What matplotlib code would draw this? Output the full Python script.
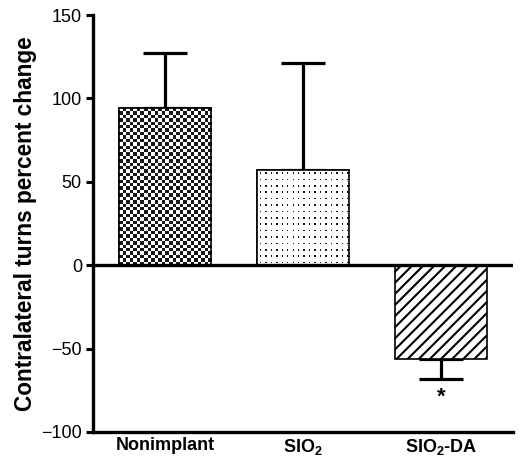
import numpy as np
import matplotlib
matplotlib.use("Agg")
import matplotlib.pyplot as plt

plt.rcParams['font.family'] = ['Liberation Sans', 'DejaVu Sans']
plt.rcParams['mathtext.fontset'] = 'custom'
plt.rcParams['mathtext.rm'] = 'Liberation Sans:bold'
plt.rcParams['mathtext.bf'] = 'Liberation Sans:bold'
plt.rcParams['hatch.linewidth'] = 1.5

# data
groups = ['Nonimplant', r'SIO$_\mathbf{2}$', r'SIO$_\mathbf{2}$-DA']
means = [94, 57, -56]
errors = [33, 64, 12]

fig = plt.figure(figsize=(5.21, 4.71), dpi=100)
ax = fig.add_axes([0.1785, 0.083, 0.806, 0.885])

x = np.arange(len(groups))
bars = ax.bar(x, means, width=0.67, color='white', edgecolor='black',
              linewidth=1.2, zorder=2)
bars[2].set_hatch('///')


def fill_texture(bar, tex, vmax):
    # paint a texture inside a bar, clipped to its outline
    im = ax.imshow(tex, cmap='gray_r', vmin=0, vmax=vmax, aspect='auto',
                   interpolation='nearest', zorder=2.5,
                   extent=(bar.get_x(), bar.get_x() + bar.get_width(),
                           bar.get_y(), bar.get_y() + bar.get_height()))
    im.set_clip_path(bar)


# checkerboard for Nonimplant
checker = np.indices((46, 26)).sum(axis=0) % 2
fill_texture(bars[0], checker, 1.1)

# fine dot grid for SIO2
cell = np.zeros((4, 4))
cell[2, 2] = 1
dots = np.tile(cell, (15, 17))
fill_texture(bars[1], dots, 1.1)

# redraw outlines on top of the textures
ax.bar(x[:2], means[:2], width=0.67, color='none', edgecolor='black',
       linewidth=1.2, zorder=2.6)

# one-sided error bars (away from zero)
lower = [0 if m >= 0 else e for m, e in zip(means, errors)]
upper = [e if m >= 0 else 0 for m, e in zip(means, errors)]
ax.errorbar(x, means, yerr=[lower, upper], fmt='none', ecolor='black',
            elinewidth=2.3, capsize=16, capthick=2.3, zorder=1)

ax.axhline(0, color='black', linewidth=2.4, zorder=3)

# significance mark
ax.text(x[2], means[2] - errors[2] - 5, '*', ha='center', va='top',
        fontsize=16, fontweight='bold')

ax.set_xlim(-0.52, 2.52)
ax.set_ylim(-100, 150)
ax.set_yticks([-100, -50, 0, 50, 100, 150])
ax.set_yticklabels(['\u2212100', '\u221250', '0', '50', '100', '150'])
ax.set_xticks(x)
ax.set_xticklabels(groups, fontweight='bold', fontsize=13)
ax.tick_params(axis='y', labelsize=13, width=2.2, length=5, direction='out',
               pad=3)
ax.tick_params(axis='x', length=0, pad=4)

for s in ['top', 'right']:
    ax.spines[s].set_visible(False)
for s in ['left', 'bottom']:
    ax.spines[s].set_linewidth(2.4)

ax.set_ylabel('Contralateral turns percent change', fontsize=16.3,
              fontweight='bold', labelpad=3)

fig.savefig('out.png', dpi=100)
